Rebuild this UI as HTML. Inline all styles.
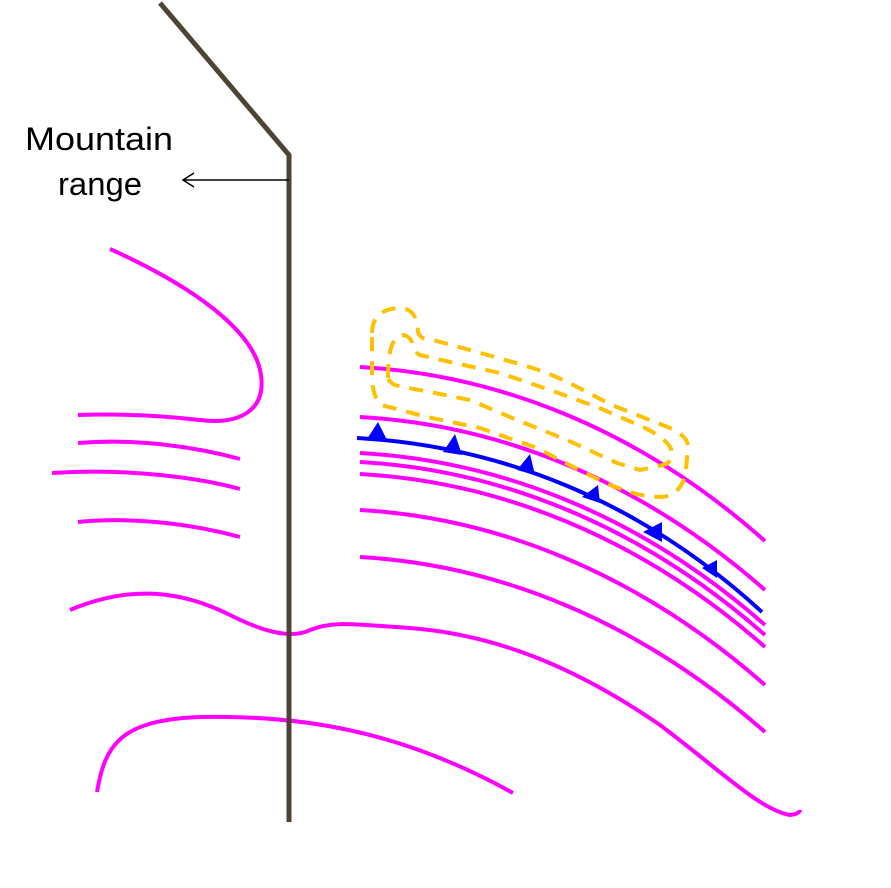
<!DOCTYPE html>
<html><head><style>body{margin:0;background:#fff}svg{display:block}</style></head><body>
<svg width="891" height="888" viewBox="0 0 891 888" xmlns="http://www.w3.org/2000/svg">
<g fill="none" stroke="#ff00ff" stroke-width="4">
<path d="M110,249 C190,285 255,330 261,375 C266,410 240,425 200,420 C150,414 110,414 78,415"/>
<path d="M78,443 C140,438 200,448 240,459"/>
<path d="M52,473 C130,468 200,478 240,489"/>
<path d="M78,522 C140,516 200,526 240,537"/>
<path d="M360,367 C500,375 640,430 765,541"/>
<path d="M360,417 C500,425 640,480 765,590"/>
<path d="M360,453 C500,461 640,515 765,625"/>
<path d="M360,462 C500,470 640,525 765,635"/>
<path d="M360,474 C500,482 640,537 765,647"/>
<path d="M360,510 C500,518 640,575 765,685"/>
<path d="M360,557 C500,565 640,622 765,732"/>
<path d="M70,610 C130,585 180,590 230,615 C260,630 290,640 310,630 C335,620 360,625 410,628 C500,635 580,670 660,725 C720,770 760,810 790,815 C800,814 800,810 800,810"/>
<path d="M97,792 C105,745 120,720 200,717 C300,715 400,730 513,793"/>
</g>
<path d="M357,438 C500,446 640,500 762,612" fill="none" stroke="#0000ff" stroke-width="4"/>
<g fill="#0000ff">
<polygon points="367,439 378,422 388,442"/>
<polygon points="443,452 455,434 462,455"/>
<polygon points="517,470 530,454 535,475"/>
<polygon points="582,497 598,485 600,503"/>
<polygon points="643,532 662,522 662,542"/>
<polygon points="702,568 717,560 717,578"/>
</g>
<g fill="none" stroke="#ffc000" stroke-width="4" stroke-dasharray="14,10">
<path d="M372,333 C372,315 385,308 400,308 C412,308 418,318 418,332 C420,338 425,340 433,340 L477,352 L523,365 C540,370 555,376 567,382 C585,390 600,400 617,407 L670,428 C682,433 688,440 688,447 L686,470 C684,486 675,497 660,497 C650,497 640,495 633,493 L610,485 L583,472 L537,448 L480,428 L427,417 L393,408 C384,406 377,404 377,400 C372,390 372,380 372,367 Z"/>
<path d="M388,378 C388,360 390,348 393,343 C396,336 400,335 403,335 C408,336 410,338 412,342 C414,350 417,354 420,355 L450,362 L500,373 L550,390 L597,407 L643,427 C660,435 672,445 672,453 C672,460 668,464 663,465 L640,470 L617,463 L567,440 L517,420 L470,400 L430,392 L403,387 C395,386 390,383 388,378 Z"/>
</g>
<polyline points="160,3 289,155 289,822" fill="none" stroke="#4d4433" stroke-width="5"/>
<line x1="289" y1="180" x2="184" y2="180" stroke="#000" stroke-width="1.5"/>
<polyline points="194,173 183,180 194,187" fill="none" stroke="#000" stroke-width="1.5"/>
<text x="25" y="150" font-family="Liberation Sans, sans-serif" font-size="32" textLength="148" lengthAdjust="spacingAndGlyphs" fill="#000">Mountain</text>
<text x="58" y="195" font-family="Liberation Sans, sans-serif" font-size="32" textLength="84" lengthAdjust="spacingAndGlyphs" fill="#000">range</text>
</svg>
</body></html>
